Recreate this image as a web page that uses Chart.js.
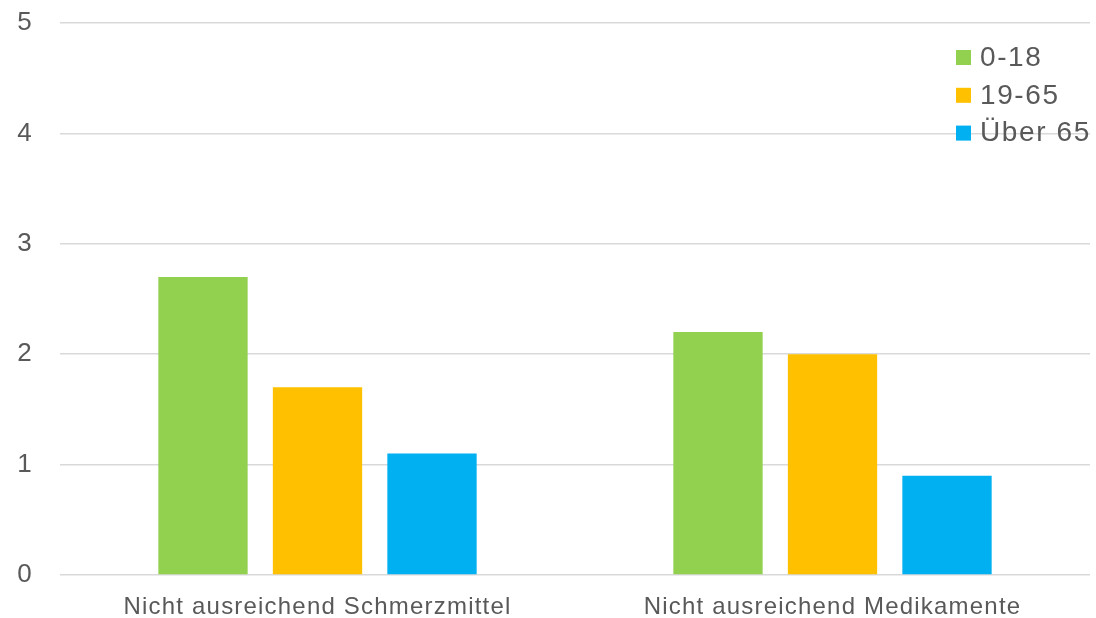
<!DOCTYPE html>
<html>
<head>
<meta charset="utf-8">
<script src="https://cdn.jsdelivr.net/npm/chart.js@4.4.1/dist/chart.umd.min.js"></script>
<style>
  html, body { margin: 0; padding: 0; background: #ffffff; }
  #wrap { width: 1096px; height: 618px; }
</style>
</head>
<body>
<div id="wrap"><canvas id="c" width="1096" height="618"></canvas></div>
<script>
// Categories and series
const categories = ['Nicht ausreichend Schmerzmittel', 'Nicht ausreichend Medikamente'];
const seriesNames = ['0-18', '19-65', 'Über 65'];
const values018 = [2.7, 2.2];
const values1965 = [1.7, 2.0];
const valuesOver65 = [1.1, 0.9];
const yTicks = [0, 1, 2, 3, 4, 5];

const colors = ['#92d050', '#ffc000', '#00b0f0'];
const textColor = '#595959';
const fontFamily = '"Liberation Sans", Arial, sans-serif';

// Slightly wider text spacing for all axis labels
const textSpacing = {
  id: 'textSpacing',
  beforeDraw(chart) { chart.ctx.letterSpacing = '1.2px'; },
  afterDraw(chart) { chart.ctx.letterSpacing = '0px'; }
};

// Legend drawn in the top-right corner of the plot area
const floatingLegend = {
  id: 'floatingLegend',
  afterDraw(chart) {
    const ctx = chart.ctx;
    const x0 = 956, y0 = 57, step = 37.8;
    ctx.save();
    ctx.letterSpacing = '1.6px';
    ctx.font = '28px ' + fontFamily;
    ctx.textBaseline = 'middle';
    chart.data.datasets.forEach((ds, i) => {
      const y = y0 + i * step;
      ctx.fillStyle = ds.backgroundColor;
      ctx.fillRect(x0, y - 7, 15, 15);
      ctx.fillStyle = textColor;
      ctx.fillText(ds.label, x0 + 24, y + 1);
    });
    ctx.restore();
  }
};

new Chart(document.getElementById('c'), {
  type: 'bar',
  data: {
    labels: categories,
    datasets: [
      { label: seriesNames[0], data: values018, backgroundColor: colors[0] },
      { label: seriesNames[1], data: values1965, backgroundColor: colors[1] },
      { label: seriesNames[2], data: valuesOver65, backgroundColor: colors[2] }
    ]
  },
  options: {
    responsive: false,
    animation: false,
    devicePixelRatio: 1,
    layout: { padding: { top: 23, right: 6, left: 0, bottom: 0 } },
    datasets: {
      bar: { categoryPercentage: 0.667, barPercentage: 0.78 }
    },
    plugins: {
      legend: { display: false },
      tooltip: { enabled: false }
    },
    scales: {
      x: {
        grid: { display: false },
        border: { display: false },
        ticks: {
          color: textColor,
          font: { family: fontFamily, size: 24 },
          padding: 10,
          maxRotation: 0
        },
        afterFit(scale) { scale.height = 43; }
      },
      y: {
        min: 0,
        max: 5,
        afterBuildTicks(scale) { scale.ticks = yTicks.map(v => ({ value: v })); },
        grid: { color: '#d9d9d9', lineWidth: 1.5, drawTicks: false },
        border: { display: false },
        ticks: {
          color: textColor,
          font: { family: fontFamily, size: 26 },
          padding: 27
        },
        afterFit(scale) {
          scale.width = 60;
          scale.paddingTop = 0;
          scale.paddingBottom = 0;
        }
      }
    }
  },
  plugins: [textSpacing, floatingLegend]
});
</script>
</body>
</html>
